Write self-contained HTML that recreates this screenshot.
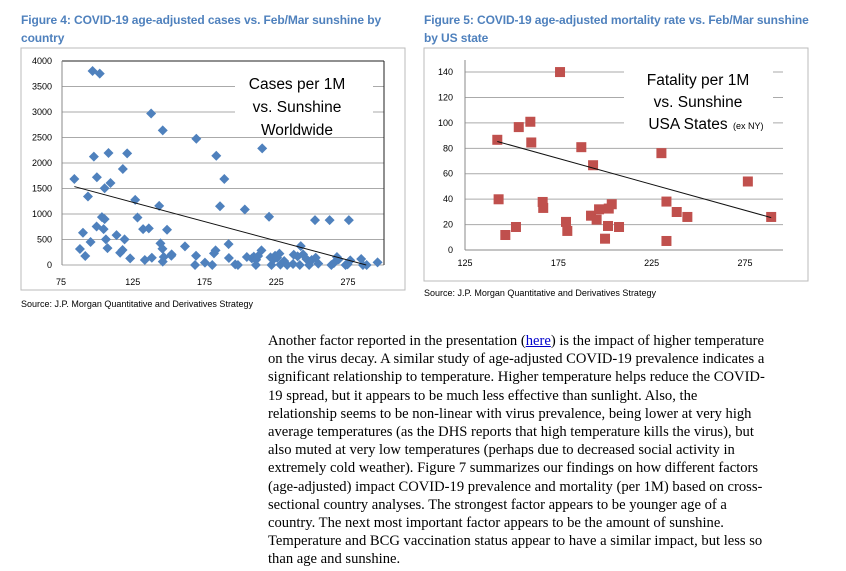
<!DOCTYPE html>
<html><head><meta charset="utf-8">
<style>
body{margin:0;background:#fff;width:846px;height:571px;overflow:hidden;position:relative;font-family:"Liberation Sans",sans-serif}
.title{position:absolute;color:#4F81BD;font-weight:bold;font-size:12px;letter-spacing:-0.1px;line-height:18px;white-space:nowrap}
.src{position:absolute;font-size:9px;color:#000}
#para{position:absolute;left:268px;top:332px;font-family:"Liberation Serif",serif;font-size:14.6px;line-height:18.2px;white-space:nowrap}
#para a{color:#00c;text-decoration:underline}
</style></head><body>
<div class="title" style="left:21px;top:11px">Figure 4: COVID-19 age-adjusted cases vs. Feb/Mar sunshine by<br>country</div>
<div class="title" style="left:424px;top:11px">Figure 5: COVID-19 age-adjusted mortality rate vs. Feb/Mar sunshine<br>by US state</div>
<svg id="c1" width="846" height="571" style="position:absolute;left:0;top:0" font-family="Liberation Sans, sans-serif"></svg>
<div class="src" style="left:21px;top:299px">Source: J.P. Morgan Quantitative and Derivatives Strategy</div>
<div class="src" style="left:424px;top:288px">Source: J.P. Morgan Quantitative and Derivatives Strategy</div>
<div id="para">Another factor reported in the presentation (<a>here</a>) is the impact of higher temperature<br>on the virus decay. A similar study of age-adjusted COVID-19 prevalence indicates a<br>significant relationship to temperature. Higher temperature helps reduce the COVID-<br>19 spread, but it appears to be much less effective than sunlight. Also, the<br>relationship seems to be non-linear with virus prevalence, being lower at very high<br>average temperatures (as the DHS reports that high temperature kills the virus), but<br>also muted at very low temperatures (perhaps due to decreased social activity in<br>extremely cold weather). Figure 7 summarizes our findings on how different factors<br>(age-adjusted) impact COVID-19 prevalence and mortality (per 1M) based on cross-<br>sectional country analyses. The strongest factor appears to be younger age of a<br>country. The next most important factor appears to be the amount of sunshine.<br>Temperature and BCG vaccination status appear to have a similar impact, but less so<br>than age and sunshine.</div>
<script>
const casesX=[84.3,88.2,90.3,91.9,93.8,95.6,97,97.9,100,99.8,102,103.5,104.7,105.4,105.4,106.3,107.4,108.1,109.5,113.7,116.2,117.9,118.1,119.3,121.1,123.2,126.7,128.3,132.2,133.4,136.2,137.8,138.3,143.4,144.3,145.7,145.9,145.9,146.6,148.9,151.9,152.1,161.4,168.4,169.1,169.3,175.3,180.4,181.6,182.7,183.2,185.8,188.8,191.8,192,196.4,198.3,203.1,204.5,208,209.4,210.8,211,212.4,214.7,215.2,220,221,221.7,222.8,224.2,225.6,227.2,227.9,230.5,232.6,236.7,237.2,239.9,241.4,242.1,243.7,246,247.9,249.7,252,252.5,254.3,262.2,263.4,265.2,267.3,268.5,273.3,274.7,275.6,276.6,284.2,285.4,288,295.6];
const casesY=[1687,313,632,176,1342,450,3805,2124,1720,756,3753,938,704,899,1505,502,332,2195,1609,586,241,293,1883,502,2189,130,1277,932,704,98,717,2971,143,1160,423,319,2639,65,156,691,182,208,365,0,182,2476,46,0,228,287,2143,1153,1687,410,137,13,0,1088,156,130,163,0,104,176,287,2287,945,150,0,104,182,143,222,7,78,0,20,202,169,0,371,208,117,0,98,880,143,26,880,0,39,156,111,0,13,880,91,117,0,0,52];
const casesTrend=[[84.3,1538],[287.7,0]];
const casesYTicks=[0,500,1000,1500,2000,2500,3000,3500,4000];
const casesXTicks=[75,125,175,225,275];
const fatalX=[142.3,143,146.6,152.3,153.8,160,160.5,166.6,166.9,175.9,179.1,179.8,187.3,192.5,193.6,195.5,196.8,200,201.6,202,203.6,207.5,230.2,232.9,232.9,238.4,244.1,276.5,289];
const fatalY=[86.7,39.9,11.8,18.1,96.7,100.9,84.6,37.8,33.1,140,22.1,15,80.9,27,66.7,23.9,32,8.9,18.9,32.6,36,18.1,76.2,38.1,7.1,29.9,26,53.9,26];
const fatalTrend=[[142.3,85.4],[289,25.5]];
const fatalYTicks=[0,20,40,60,80,100,120,140];
const fatalXTicks=[125,175,225,275];

const svg=document.getElementById('c1');
const NS='http://www.w3.org/2000/svg';
function mk(tag,a,parent){const e=document.createElementNS(NS,tag);for(const k in a)e.setAttribute(k,a[k]);(parent||svg).appendChild(e);return e;}
function txt(x,y,s,anchor,size,parent){const t=mk('text',{x:x,y:y,'text-anchor':anchor,'font-size':size},parent);t.textContent=s;return t;}

// Chart 1
const x1=v=>61+(v-75)*1.435, y1=v=>265-v*0.051;
let f=mk('rect',{x:21,y:48,width:384,height:242,fill:'none',stroke:'#bbb'});


casesYTicks.forEach(v=>{
  const l=mk('line',{x1:62,x2:384,y1:y1(v),y2:y1(v),stroke:v==4000?'#222':'#aaa','stroke-width':1});
  
  
  const t=txt(52,y1(v)+3,String(v),'end',9);
  
  
});
mk('line',{x1:62,x2:62,y1:61,y2:265,stroke:'#888'});
mk('line',{x1:384,x2:384,y1:61,y2:265,stroke:'#222'});
casesXTicks.forEach(v=>{
  const t=txt(x1(v),285,String(v),'middle',9);
  
  
});
let b=mk('rect',{x:235,y:67,width:138,height:64,fill:'#fff'});


[['Cases per 1M',89],['vs. Sunshine',112],['Worldwide',135]].forEach(([s,y])=>{
  const t=txt(297,y,s,'middle',15.5);
  
  
});
casesX.forEach((v,i)=>{
  const cx=x1(v),cy=y1(casesY[i]);
  const p=mk('polygon',{points:`${cx},${cy-5} ${cx+5},${cy} ${cx},${cy+5} ${cx-5},${cy}`,fill:'#4F81BD'});
  
  
});
let tl=mk('line',{x1:x1(casesTrend[0][0]),y1:y1(casesTrend[0][1]),x2:x1(casesTrend[1][0]),y2:y1(casesTrend[1][1]),stroke:'#111','stroke-width':1});



// Chart 2
const x2=v=>465+(v-125)*1.867, y2=v=>250-v*1.271;
f=mk('rect',{x:424,y:48,width:384,height:233,fill:'none',stroke:'#bbb'});


fatalYTicks.forEach(v=>{
  const l=mk('line',{x1:465,x2:783,y1:y2(v),y2:y2(v),stroke:v==0?'#888':'#aaa','stroke-width':1});
  
  
  const t=txt(453,y2(v)+3,String(v),'end',9);
  
  
});
mk('line',{x1:465,x2:465,y1:60,y2:250,stroke:'#888'});
fatalXTicks.forEach(v=>{
  const t=txt(x2(v),266,String(v),'middle',9);
  
  
});
b=mk('rect',{x:624,y:64,width:149,height:70,fill:'#fff'});


[['Fatality per 1M',85],['vs. Sunshine',107],['USA States',129]].forEach(([s,y],i)=>{
  const t=txt(i==2?688:698,y,s,'middle',15.5);
  
  
});
let sm=txt(733,129,'(ex NY)','start',9);


fatalX.forEach((v,i)=>{
  const cx=x2(v),cy=y2(fatalY[i]);
  const r=mk('rect',{x:cx-5,y:cy-5,width:10,height:10,fill:'#C0504D'});
  
  
});
tl=mk('line',{x1:x2(fatalTrend[0][0]),y1:y2(fatalTrend[0][1]),x2:x2(fatalTrend[1][0]),y2:y2(fatalTrend[1][1]),stroke:'#111','stroke-width':1});


</script>
</body></html>
